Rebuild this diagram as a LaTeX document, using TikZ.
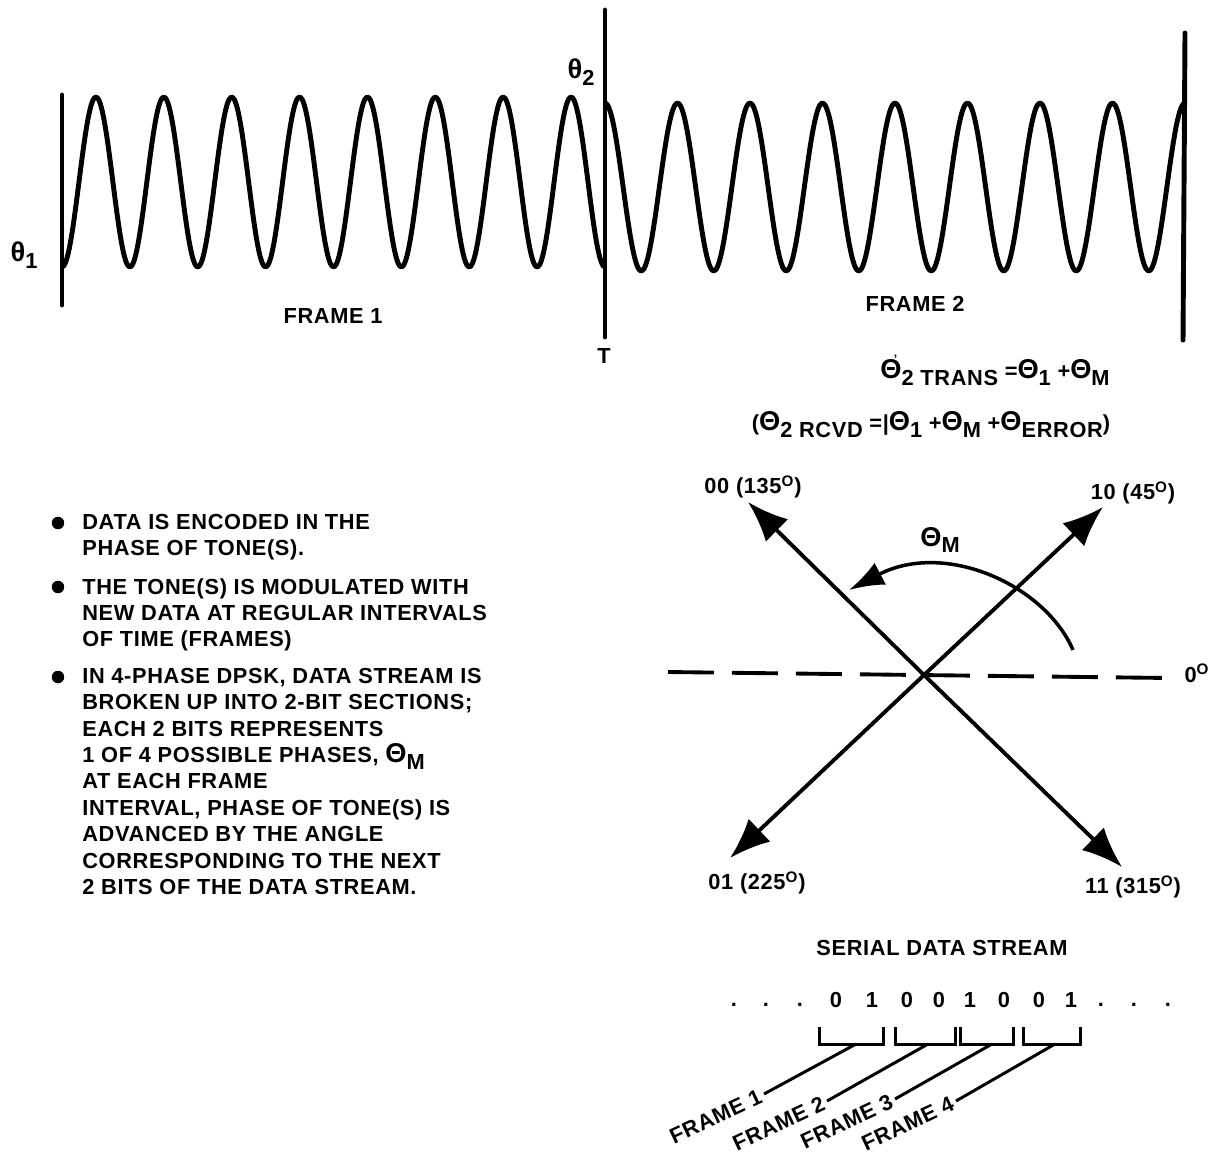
\documentclass[tikz,border=0pt]{standalone}
\usepackage{fontspec}
\setmainfont{Liberation Sans}[LetterSpace=3]
\usetikzlibrary{arrows.meta,positioning}
\newcommand{\lowr}[1]{\raisebox{-0.6ex}{#1}}
\newcommand{\Th}{{\fontsize{15.5}{15.5}\selectfont Θ}}
\newcommand{\degr}{\textsuperscript{O}}

\begin{document}
\begin{tikzpicture}[x=0.02cm, y=0.02cm,
	txt/.style={ font=\bfseries\fontsize{12.4}{15}\selectfont, inner sep=0pt },
	blk/.style={ txt, align=left, anchor=north west },
	dotb/.style={ circle, fill, inner sep=0pt, minimum size=0.25cm },
	bar/.style={ line width=2.8pt, line cap=round },
	wave/.style={ line width=2.8pt, line join=round },
	vec/.style={ line width=2.2pt, -{Latex[length=23pt,width=18pt]} },
	dashln/.style={ line width=2.2pt, dash pattern=on 0.92cm off 0.36cm },
	brk/.style={ line width=1.7pt },
	lead/.style={ line width=1.7pt },
	flab/.style={ txt, rotate=25, anchor=east, inner sep=2pt }
]
\useasboundingbox (0,0) rectangle (1213,-1164);

% waveform
\coordinate (b1t) at (62,-95);
\coordinate (b1b) at (62,-305);
\coordinate (b2t) at (605,-10);
\coordinate (b2b) at (605,-337);
\coordinate (b3t) at (1185,-33);
\coordinate (b3b) at (1183,-340);
\draw[bar] (b1t) -- (b1b);
\draw[bar] (b2t) -- (b2b);
\draw[bar] (b3t) -- (b3b);
\draw[wave] plot[domain=62:605, samples=300, smooth] (\x, {-182-85*cos(5.3039*(\x-62))});
\draw[wave] plot[domain=605:1185, samples=300, smooth] (\x, {-187+84*cos(4.9655*(\x-605))});
\node at (24,-255) (th1) [txt] {{\fontsize{15.5}{15.5}\selectfont θ}\lowr{1}};
\node at (581,-72) (th2) [txt] {{\fontsize{15.5}{15.5}\selectfont θ}\lowr{2}};
\node at (604,-356) (tt) [txt] {T};
\node at (333,-316) (fr1) [txt] {FRAME 1};
\node at (915,-304) (fr2) [txt] {FRAME 2};

% phase relations
\node at (995,-370) (trans) [txt] {\Th\rlap{\raisebox{1.3ex}{\kern-0.35em\scriptsize'}}\lowr{2 TRANS} =\Th\lowr{1} +\Th\lowr{M}};
\node at (931,-425) (rcvd) [txt] {(\Th\lowr{2 RCVD} =|\Th\lowr{1} +\Th\lowr{M} +\Th\lowr{ERROR})};

% bullets
\node at (58,-523) (d1) [dotb] {};
\node at (82,-514) (p1) [blk] {DATA IS ENCODED IN THE\\PHASE OF TONE(S).};
\node at (58,-587) (d2) [dotb] {};
\node at (82,-578) (p2) [blk] {THE TONE(S) IS MODULATED WITH\\NEW DATA AT REGULAR INTERVALS\\OF TIME (FRAMES)};
\node at (58,-677) (d3) [dotb] {};
\node at (82,-668) (p3) [blk] {IN 4-PHASE DPSK, DATA STREAM IS\\BROKEN UP INTO 2-BIT SECTIONS;\\EACH 2 BITS REPRESENTS\\1 OF 4 POSSIBLE PHASES, \Th\lowr{M}\\AT EACH FRAME\\INTERVAL, PHASE OF TONE(S) IS\\ADVANCED BY THE ANGLE\\CORRESPONDING TO THE NEXT\\2 BITS OF THE DATA STREAM.};

% phase diagram
\coordinate (o) at (924,-675);
\coordinate (t00) at (748,-502);
\coordinate (t10) at (1103,-507);
\coordinate (t01) at (730,-858);
\coordinate (t11) at (1122,-867);
\coordinate (dl) at (668,-672);
\coordinate (dr) at (1170,-678);
\draw[dashln] (dl) -- (dr);
\draw[vec] (o) -- (t00);
\draw[vec] (o) -- (t10);
\draw[vec] (o) -- (t01);
\draw[vec] (o) -- (t11);
\node at (753,-487) (l00) [txt] {00 (135\degr)};
\node at (1133,-493) (l10) [txt] {10 (45\degr)};
\node at (757,-883) (l01) [txt] {01 (225\degr)};
\node at (1133,-887) (l11) [txt] {11 (315\degr)};
\node at (1197,-673) (l0) [txt] {0\degr};
\coordinate (ms) at (1073,-650);
\coordinate (me) at (849,-590);
\draw[line width=2pt, -{Latex[length=20pt,width=14pt]}] (ms) .. controls (1045,-585) and (945,-540) .. (me);
\node at (940,-540) (thm) [txt] {\Th\lowr{M}};

% serial data stream
\node at (942,-948) (sds) [txt] {SERIAL DATA STREAM};
\node at (734,-1005) (a1) [txt] {.};
\node at (766,-1005) (a2) [txt] {.};
\node at (800,-1005) (a3) [txt] {.};
\node at (836,-1000) (s1) [txt] {0};
\node at (872,-1000) (s2) [txt] {1};
\node at (907,-1000) (s3) [txt] {0};
\node at (939,-1000) (s4) [txt] {0};
\node at (970,-1000) (s5) [txt] {1};
\node at (1004,-1000) (s6) [txt] {0};
\node at (1039,-1000) (s7) [txt] {0};
\node at (1071,-1000) (s8) [txt] {1};
\node at (1101,-1005) (z1) [txt] {.};
\node at (1134,-1005) (z2) [txt] {.};
\node at (1168,-1005) (z3) [txt] {.};
\draw[brk] (819,-1027) |- (883,-1044) -- (883,-1027);
\draw[brk] (895,-1027) |- (955,-1044) -- (955,-1027);
\draw[brk] (960,-1027) |- (1013,-1044) -- (1013,-1027);
\draw[brk] (1023,-1027) |- (1080,-1044) -- (1080,-1027);
\coordinate (k1) at (856,-1044);
\coordinate (k2) at (928,-1044);
\coordinate (k3) at (992,-1044);
\coordinate (k4) at (1055,-1044);
\node at (764,-1094) (f1) [flab] {FRAME 1};
\node at (827,-1101) (f2) [flab] {FRAME 2};
\node at (895,-1099) (f3) [flab] {FRAME 3};
\node at (956,-1101) (f4) [flab] {FRAME 4};
\draw[lead] (k1) -- (f1.east);
\draw[lead] (k2) -- (f2.east);
\draw[lead] (k3) -- (f3.east);
\draw[lead] (k4) -- (f4.east);

\end{tikzpicture}
\end{document}
